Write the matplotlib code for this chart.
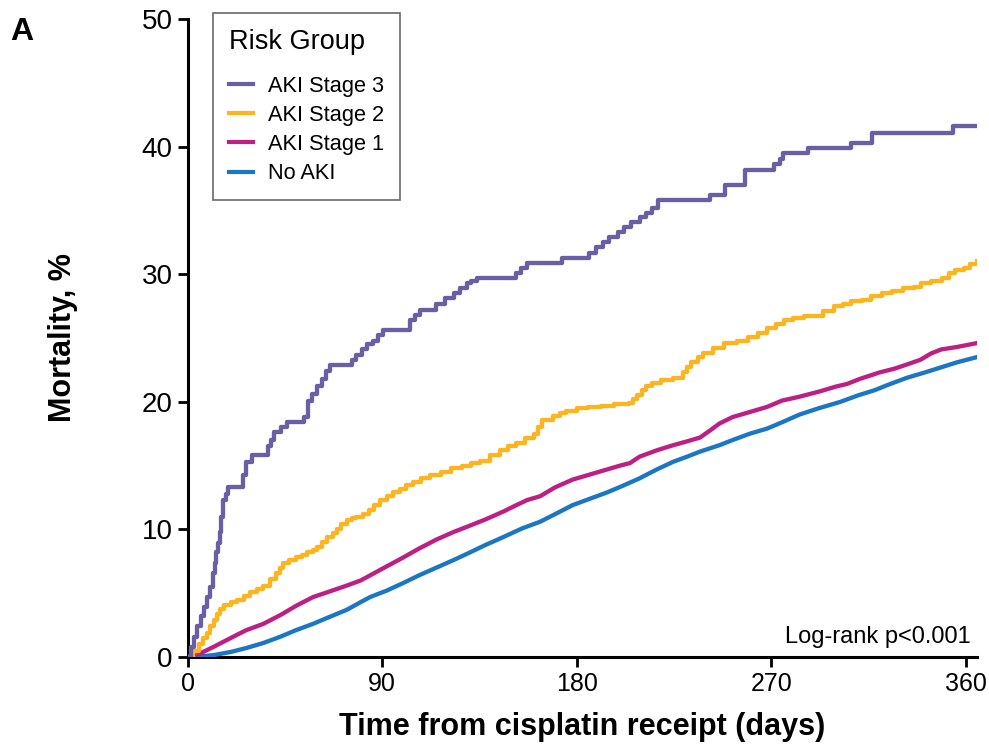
import matplotlib
matplotlib.use("Agg")
import matplotlib.pyplot as plt
from matplotlib.lines import Line2D

plt.rcParams['font.family'] = ['Liberation Sans', 'DejaVu Sans']

# Cumulative mortality (%) by days from cisplatin receipt
stage3_days = [0, 1.5, 3, 4.5, 6, 7.5, 9, 10.5, 11.7, 12.5, 13.2, 14, 14.8, 15.5, 16.3, 17.5,
               18.6, 25.6, 27, 29.7, 37, 38.5, 40, 43, 46, 54, 55.5, 57.5, 60, 62, 64, 66,
               76, 78, 80.6, 83, 85.8, 88, 90.5, 103, 105, 107.5, 115, 119, 123, 126, 129,
               131, 134, 152, 154, 157, 173, 185.5, 189, 192, 195, 199, 202, 205, 209, 212,
               215, 217.6, 241.6, 248.6, 257.8, 271, 274, 275.6, 287, 307, 316.6, 354, 365]
stage3_vals = [0, 0.8, 1.6, 2.4, 3.2, 3.9, 4.7, 5.5, 6.6, 7.4, 8.2, 8.9, 9.8, 11.0, 12.3, 12.8,
               13.3, 14.3, 15.3, 15.8, 16.5, 17.0, 17.6, 18.0, 18.4, 18.8, 20.1, 20.6, 21.2, 21.8, 22.4, 22.9,
               23.3, 23.7, 24.1, 24.5, 24.8, 25.2, 25.6, 26.4, 26.8, 27.2, 27.7, 28.1, 28.5, 28.9, 29.3,
               29.5, 29.7, 30.1, 30.5, 30.9, 31.3, 31.7, 32.1, 32.5, 32.9, 33.3, 33.7, 34.1, 34.5, 34.8,
               35.2, 35.8, 36.2, 37.0, 38.2, 38.6, 39.0, 39.5, 39.9, 40.3, 41.1, 41.6, 41.6]

stage2_days = [0, 2.5, 5, 7, 9, 10.5, 12, 13.5, 15, 17, 20, 23, 26, 29, 32, 35, 38, 41, 42.5, 44,
               47, 50, 53, 55, 58, 60, 62, 64.5, 67, 69, 71, 73.6, 76, 78, 81, 84, 86, 89, 92, 95,
               98, 101, 104, 108, 112, 117, 122, 127, 131, 135, 140, 144.6, 148, 152, 156, 160,
               162, 164, 169, 172, 175, 180, 185, 191, 197, 204, 206, 208, 210, 212, 215, 219,
               224.6, 229, 231, 233, 236, 238.5, 243, 248, 254, 259, 264, 268, 272, 276, 280,
               285, 290, 294, 299, 303, 307, 312, 316, 321, 326, 331, 336, 339, 344, 349, 352,
               355, 359, 362, 365]
stage2_vals = [0, 0.5, 1.0, 1.5, 1.9, 2.4, 2.9, 3.4, 3.8, 4.1, 4.3, 4.5, 4.8, 5.1, 5.3, 5.6, 6.1, 6.6, 7.0, 7.4,
               7.6, 7.8, 8.0, 8.2, 8.4, 8.6, 9.0, 9.4, 9.7, 10.0, 10.4, 10.7, 10.9, 11.0, 11.2, 11.5, 11.9, 12.3, 12.6, 12.9,
               13.2, 13.5, 13.7, 14.0, 14.3, 14.5, 14.8, 15.0, 15.2, 15.4, 15.8, 16.2, 16.5, 16.8, 17.2, 17.5,
               18.0, 18.6, 18.9, 19.1, 19.3, 19.5, 19.6, 19.7, 19.8, 19.9, 20.2, 20.5, 20.9, 21.2, 21.5, 21.7,
               21.9, 22.3, 22.7, 23.1, 23.5, 23.8, 24.2, 24.6, 24.8, 25.1, 25.4, 25.8, 26.1, 26.4, 26.6,
               26.7, 26.7, 27.1, 27.5, 27.7, 27.9, 28.0, 28.3, 28.5, 28.7, 28.9, 29.0, 29.3, 29.5, 29.7, 30.1,
               30.3, 30.5, 30.8, 31.0]

stage1_days = [0, 6, 12, 20, 27, 35, 43, 50, 58, 65, 73.6, 80, 84.4, 92, 99.7, 107, 115, 123, 130.6,
               138, 146, 152, 157, 163, 170, 178, 186, 194, 200, 204.6, 209, 217, 224.6, 231, 237,
               242, 246, 252, 260, 268, 275, 283, 292, 300, 305, 311, 320, 327, 334, 339, 344,
               348.5, 356, 365]
stage1_vals = [0, 0.3, 0.8, 1.5, 2.1, 2.6, 3.3, 4.0, 4.7, 5.1, 5.6, 6.0, 6.4, 7.1, 7.8, 8.5, 9.2, 9.8, 10.3,
               10.8, 11.4, 11.9, 12.3, 12.6, 13.3, 13.9, 14.3, 14.7, 15.0, 15.2, 15.7, 16.2, 16.6, 16.9, 17.2,
               17.8, 18.3, 18.8, 19.2, 19.6, 20.1, 20.4, 20.8, 21.2, 21.4, 21.8, 22.3, 22.6, 23.0, 23.3, 23.8,
               24.1, 24.3, 24.6]

noaki_days = [0, 6, 12, 20, 27, 35, 43, 50, 58, 65, 73.6, 80, 84.4, 92, 99.7, 107, 115, 123, 130.6,
              138, 146, 155, 163, 170, 178, 186, 194, 201, 209, 217, 224.6, 231, 237, 246, 252,
              260, 268, 275, 283, 292, 302, 310, 317.6, 325, 333, 341, 348.5, 356, 365]
noaki_vals = [0, 0.05, 0.15, 0.4, 0.7, 1.1, 1.6, 2.1, 2.6, 3.1, 3.7, 4.3, 4.7, 5.2, 5.8, 6.4, 7.0, 7.6, 8.2,
              8.8, 9.4, 10.1, 10.6, 11.2, 11.9, 12.4, 12.9, 13.4, 14.0, 14.7, 15.3, 15.7, 16.1, 16.6, 17.0,
              17.5, 17.9, 18.4, 19.0, 19.5, 20.0, 20.5, 20.9, 21.4, 21.9, 22.3, 22.7, 23.1, 23.5]

groups = ["AKI Stage 3", "AKI Stage 2", "AKI Stage 1", "No AKI"]
colors = ["#6a5ea4", "#fdb41e", "#bd1f84", "#1b76c3"]

x_ticks = [0, 90, 180, 270, 360]
y_ticks = [0, 10, 20, 30, 40, 50]

fig = plt.figure(figsize=(9.89, 7.45), dpi=100)
ax = fig.add_axes([0.1898, 0.1181, 0.7978, 0.8564])

lw = 3.1
ax.plot(noaki_days, noaki_vals, color=colors[3], lw=lw, solid_joinstyle='round', zorder=3)
ax.plot(stage1_days, stage1_vals, color=colors[2], lw=lw, solid_joinstyle='round', zorder=4)
ax.plot(stage2_days, stage2_vals, color=colors[1], lw=lw, drawstyle='steps-post', zorder=5)
ax.plot(stage3_days, stage3_vals, color=colors[0], lw=lw, drawstyle='steps-post', zorder=6)

ax.set_xlim(0, 365)
ax.set_ylim(0, 50)
ax.set_xticks(x_ticks)
ax.set_yticks(y_ticks)
ax.tick_params(axis='both', direction='out', length=7, width=2, pad=4)
ax.tick_params(axis='x', labelsize=18)
ax.tick_params(axis='y', labelsize=20)
for side in ('top', 'right'):
    ax.spines[side].set_visible(False)
for side in ('left', 'bottom'):
    ax.spines[side].set_linewidth(2.2)

ax.set_xlabel("Time from cisplatin receipt (days)", fontsize=22, fontweight='bold', labelpad=11)
ax.set_ylabel("Mortality, %", fontsize=22, fontweight='bold', labelpad=46)

ax.text(0.993, 0.014, "Log-rank p<0.001", transform=ax.transAxes, ha='right', va='bottom',
        fontsize=17)

handles = [Line2D([0], [0], color=c, lw=3.0) for c in colors]
leg = ax.legend(handles, groups, title="Risk Group", loc='upper left',
                bbox_to_anchor=(0.032, 1.0094), borderaxespad=0, fontsize=15.7,
                title_fontsize=19.5, frameon=True, fancybox=False, edgecolor='#444444',
                handlelength=1.1, handletextpad=0.7, labelspacing=0.38, borderpad=0.72,
                alignment='left')
leg.get_frame().set_linewidth(1.2)
leg._legend_box.sep = 15

fig.text(0.010, 0.957, "A", fontsize=23, fontweight='bold', ha='left', va='center')

fig.savefig("out.png", dpi=100)
